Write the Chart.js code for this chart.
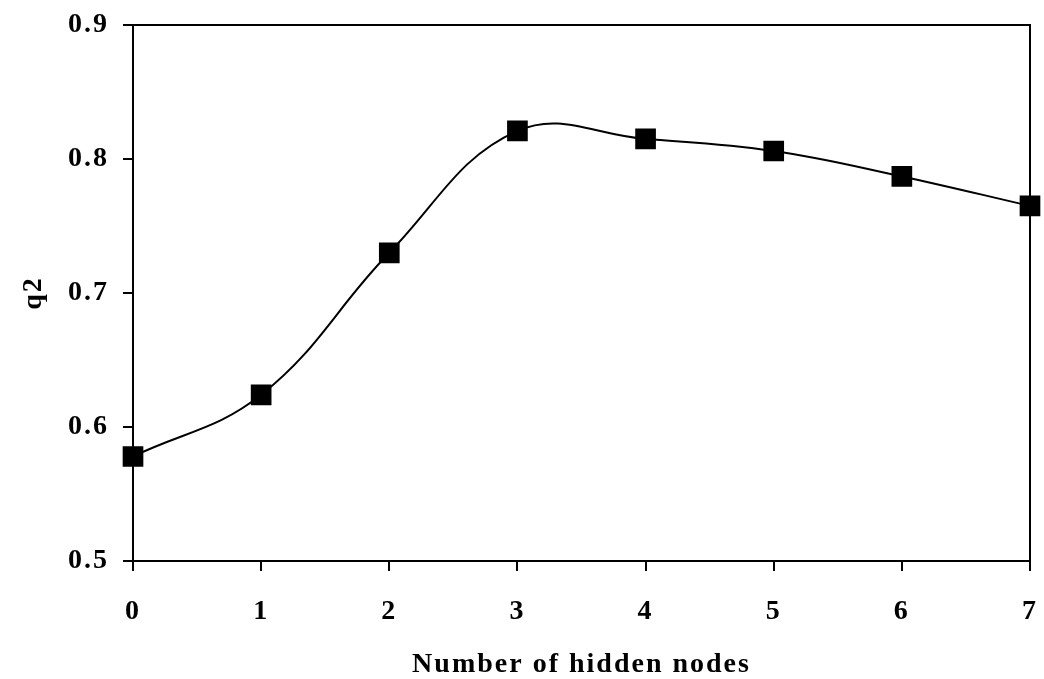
<!DOCTYPE html>
<html>
<head>
<meta charset="utf-8">
<script src="https://cdn.jsdelivr.net/npm/chart.js@4/dist/chart.umd.min.js"></script>
<style>
  html, body { margin: 0; padding: 0; background: #fff; }
  #wrap { width: 1044px; height: 679px; }
</style>
</head>
<body>
<div id="wrap"><canvas id="c" width="1044" height="679"></canvas></div>
<script>
var hiddenNodes = [0, 1, 2, 3, 4, 5, 6, 7];
var q2 = [0.578, 0.624, 0.730, 0.821, 0.815, 0.806, 0.787, 0.765];
var yTicks = [0.5, 0.6, 0.7, 0.8, 0.9];

var serif = '"Liberation Serif", "Times New Roman", serif';

// wider type like the scanned figure (canvas resize resets it, so set it every pass)
var spacing = {
  id: 'spacing',
  beforeUpdate: function (chart) { chart.ctx.letterSpacing = '2px'; },
  beforeDraw: function (chart) { chart.ctx.letterSpacing = '2px'; }
};

// top and right frame lines
var frame = {
  id: 'frame',
  afterDraw: function (chart) {
    var a = chart.chartArea;
    var ctx = chart.ctx;
    ctx.save();
    ctx.strokeStyle = '#000';
    ctx.lineWidth = 2;
    ctx.beginPath();
    ctx.moveTo(a.left, a.top);
    ctx.lineTo(a.right, a.top);
    ctx.lineTo(a.right, a.bottom);
    ctx.stroke();
    ctx.restore();
  }
};

new Chart(document.getElementById('c'), {
  type: 'line',
  data: {
    datasets: [{
      data: hiddenNodes.map(function (x, i) { return { x: x, y: q2[i] }; }),
      borderColor: '#000',
      backgroundColor: '#000',
      borderWidth: 2,
      tension: 0.4,
      pointStyle: 'rect',
      pointRadius: 13.2,
      pointHoverRadius: 13.2,
      clip: false
    }]
  },
  plugins: [spacing, frame],
  options: {
    responsive: false,
    animation: false,
    events: [],
    layout: { autoPadding: false, padding: { top: 25, right: 14, left: 0, bottom: 0 } },
    plugins: { legend: { display: false }, tooltip: { enabled: false } },
    scales: {
      x: {
        type: 'linear',
        min: 0,
        max: 7,
        afterFit: function (s) { s.height = 118; s.paddingLeft = 0; s.paddingRight = 0; },
        ticks: {
          stepSize: 1,
          color: '#000',
          padding: 24,
          font: { family: serif, size: 28, weight: 'bold' }
        },
        grid: { drawOnChartArea: false, drawTicks: true, tickLength: 10, color: '#000', lineWidth: 2 },
        border: { display: true, color: '#000', width: 2 },
        title: {
          display: true,
          text: 'Number of hidden nodes',
          color: '#000',
          padding: { top: 0, bottom: 0 },
          font: { family: serif, size: 28, weight: 'bold', lineHeight: 1 }
        }
      },
      y: {
        min: 0.5,
        max: 0.9,
        afterFit: function (s) { s.width = 133; s.paddingTop = 0; s.paddingBottom = 0; },
        afterBuildTicks: function (s) { s.ticks = yTicks.map(function (v) { return { value: v }; }); },
        ticks: {
          color: '#000',
          padding: 14,
          font: { family: serif, size: 28, weight: 'bold' },
          callback: function (v) { return v.toFixed(1); }
        },
        grid: { drawOnChartArea: false, drawTicks: true, tickLength: 10, color: '#000', lineWidth: 2 },
        border: { display: true, color: '#000', width: 2 },
        title: {
          display: true,
          text: 'q2',
          color: '#000',
          padding: { top: 20, bottom: 0 },
          font: { family: serif, size: 28, weight: 'bold', lineHeight: 1 }
        }
      }
    }
  }
});
</script>
</body>
</html>
